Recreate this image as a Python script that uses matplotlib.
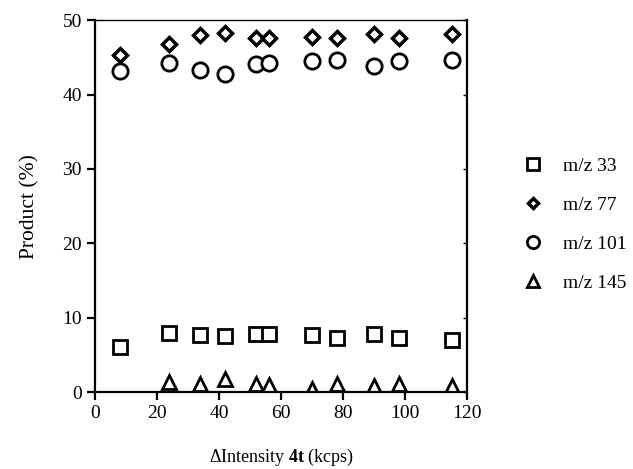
import matplotlib
matplotlib.use('Agg')
import matplotlib.pyplot as plt

plt.rcParams['font.family'] = 'Liberation Serif'
plt.rcParams['mathtext.fontset'] = 'custom'
plt.rcParams['mathtext.rm'] = 'Liberation Serif'
plt.rcParams['mathtext.bf'] = 'Liberation Serif:bold'

intensity = [8, 24, 34, 42, 52, 56, 70, 78, 90, 98, 115]
mz33 = [6.0, 8.0, 7.7, 7.5, 7.8, 7.8, 7.7, 7.3, 7.8, 7.3, 7.0]
mz77 = [45.3, 46.8, 48.0, 48.3, 47.6, 47.6, 47.8, 47.6, 48.1, 47.6, 48.1]
mz101 = [43.2, 44.3, 43.3, 42.8, 44.1, 44.3, 44.5, 44.6, 43.9, 44.5, 44.6]
intensity145 = [24, 34, 42, 52, 56, 70, 78, 90, 98, 115]
mz145 = [1.3, 1.1, 1.8, 1.1, 0.9, 0.4, 1.1, 0.8, 1.1, 0.8]

fig = plt.figure(figsize=(6.33, 4.69), dpi=100)
ax = fig.add_axes([0.150, 0.164, 0.588, 0.793])

A, = ax.plot(intensity, mz33, 's', ms=10, mfc='white', mec='black', mew=2, label='m/z 33')
B, = ax.plot(intensity, mz77, 'D', ms=7, mfc='white', mec='black', mew=2.5, label='m/z 77')
C, = ax.plot(intensity, mz101, 'o', ms=11, mfc='white', mec='black', mew=2, label='m/z 101')
D, = ax.plot(intensity145, mz145, '^', ms=10, mfc='white', mec='black', mew=2, label='m/z 145')

ax.set_xlim(0, 120)
ax.set_ylim(0, 50)
ax.set_xticks(range(0, 121, 20))
ax.set_yticks(range(0, 51, 10))
for s in ax.spines.values():
    s.set_linewidth(1.6)
ax.spines['top'].set_linewidth(1.0)
ax.tick_params(axis='both', direction='out', length=6, width=1.6, labelsize=14)
ax.tick_params(axis='y', which='both', right=True)
for t in ax.yaxis.get_major_ticks():
    t.tick2line.set_marker(0)  # small inward tick on the right side
    t.tick2line.set_markersize(3)
    t.tick2line.set_markeredgewidth(1)

ax.set_xlabel(r'$\Delta$Intensity $\mathbf{4t}$ (kcps)', fontsize=13, labelpad=18)
ax.set_ylabel('Product (%)', fontsize=15.5, labelpad=16)

ax.legend(handles=[A, B, C, D], loc='center left', bbox_to_anchor=(1.105, 0.45),
          frameon=False, fontsize=14, labelspacing=1.1, handletextpad=1.0,
          handlelength=1.0, markerscale=0.8)

fig.savefig('out.png', dpi=100)
